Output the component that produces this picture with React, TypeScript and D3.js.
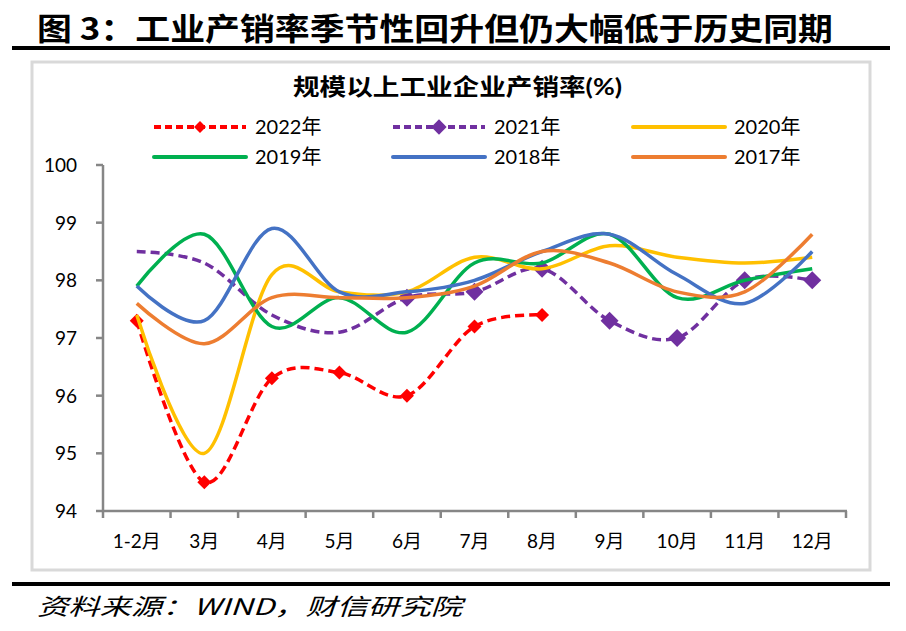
import React from "react";
import * as d3 from "d3";

const months = ["1-2月", "3月", "4月", "5月", "6月", "7月", "8月", "9月", "10月", "11月", "12月"];
const v2022 = [97.3, 94.5, 96.3, 96.4, 96.0, 97.2, 97.4];
const v2021 = [98.5, 98.3, 97.4, 97.1, 97.7, 97.8, 98.2, 97.3, 97.0, 98.0, 98.0];
const v2020 = [97.4, 95.0, 98.1, 97.8, 97.8, 98.4, 98.2, 98.6, 98.4, 98.3, 98.4];
const v2019 = [97.9, 98.8, 97.2, 97.7, 97.1, 98.3, 98.3, 98.8, 97.7, 98.0, 98.2];
const v2018 = [97.9, 97.3, 98.9, 97.8, 97.8, 98.0, 98.5, 98.8, 98.1, 97.6, 98.5];
const v2017 = [97.6, 96.9, 97.7, 97.7, 97.7, 97.9, 98.5, 98.3, 97.8, 97.8, 98.8];
const yTicks = [94, 95, 96, 97, 98, 99, 100];
const seriesNames = ["2022年", "2021年", "2020年", "2019年", "2018年", "2017年"];

const TITLE = "图 3：工业产销率季节性回升但仍大幅低于历史同期";
const CHART_TITLE = "规模以上工业企业产销率(%)";
const SOURCE = "资料来源：WIND，财信研究院";

const FONT = "Lato, 'Noto Sans CJK SC', sans-serif";

type S = { name: string; values: number[]; color: string; dash?: string; marker?: number; markerFrom?: number };

export default function App() {
  const x = d3.scaleBand<string>().domain(months).range([103, 846]).padding(0);
  const y = d3.scaleLinear().domain([94, 100]).range([511, 165]);
  const cx = (i: number) => (x(months[i]) as number) + x.bandwidth() / 2;
  const line = d3
    .line<number>()
    .x((_, i) => cx(i))
    .y((d) => y(d))
    .curve(d3.curveCardinal.tension(0));

  const series: S[] = [
    { name: seriesNames[0], values: v2022, color: "#FF0000", dash: "9 5", marker: 7, markerFrom: 0 },
    { name: seriesNames[1], values: v2021, color: "#7030A0", dash: "9 5", marker: 9, markerFrom: 4 },
    { name: seriesNames[2], values: v2020, color: "#FFC000" },
    { name: seriesNames[3], values: v2019, color: "#00B050" },
    { name: seriesNames[4], values: v2018, color: "#4472C4" },
    { name: seriesNames[5], values: v2017, color: "#ED7D31" },
  ];

  const legendPos = [
    { x: 154, y: 127 },
    { x: 393, y: 127 },
    { x: 633, y: 127 },
    { x: 154, y: 157 },
    { x: 393, y: 157 },
    { x: 633, y: 157 },
  ];

  const diamond = (px: number, py: number, r: number) =>
    `M${px},${py - r}L${px + r},${py}L${px},${py + r}L${px - r},${py}Z`;

  return (
    <svg width={906} height={631} style={{ position: "absolute", left: 0, top: 0, background: "#fff" }}>
      <rect x={0} y={0} width={906} height={631} fill="#fff" />
      <text
        x={37}
        y={40}
        fontFamily="'Noto Sans CJK SC', sans-serif"
        fontWeight={700}
        fontSize={31}
        textLength={796}
        lengthAdjust="spacingAndGlyphs"
        fill="#000"
      >
        {TITLE}
      </text>
      <line x1={12} x2={890} y1={48} y2={48} stroke="#000" strokeWidth={4} />
      <rect x={32} y={62} width={838} height={508} fill="#fff" stroke="#D9D9D9" strokeWidth={3} />
      <text
        x={293}
        y={95}
        fontFamily={FONT}
        fontWeight={700}
        fontSize={23}
        textLength={329}
        lengthAdjust="spacingAndGlyphs"
        fill="#000"
      >
        {CHART_TITLE}
      </text>

      {/* legend */}
      {series.map((s, i) => {
        const p = legendPos[i];
        return (
          <g key={s.name}>
            <line
              x1={p.x}
              x2={p.x + 92}
              y1={p.y}
              y2={p.y}
              stroke={s.color}
              strokeWidth={4}
              strokeDasharray={s.dash ? "7 4" : undefined}
              strokeLinecap={s.dash ? "butt" : "round"}
            />
            {s.marker ? <path d={diamond(p.x + 46, p.y, s.marker * 0.85)} fill={s.color} /> : null}
            <text x={p.x + 101} y={p.y + 7} fontFamily={FONT} fontSize={20} fill="#000">
              {s.name}
            </text>
          </g>
        );
      })}

      {/* axes */}
      <line x1={103} x2={103} y1={165} y2={512} stroke="#868686" strokeWidth={2.5} />
      <line x1={102} x2={847} y1={511} y2={511} stroke="#868686" strokeWidth={2.5} />
      {yTicks.map((t) => (
        <g key={t}>
          <line x1={96} x2={103} y1={y(t)} y2={y(t)} stroke="#868686" strokeWidth={2.5} />
          <text x={77} y={y(t) + 7} textAnchor="end" fontFamily={FONT} fontSize={19} fill="#000">
            {t}
          </text>
        </g>
      ))}
      {months.map((m, i) => (
        <g key={m}>
          <line
            x1={x(m) as number}
            x2={x(m) as number}
            y1={511}
            y2={518}
            stroke="#868686"
            strokeWidth={2.5}
          />
          <text x={cx(i)} y={548} textAnchor="middle" fontFamily={FONT} fontSize={19} fill="#000">
            {m}
          </text>
        </g>
      ))}
      <line x1={846} x2={846} y1={511} y2={518} stroke="#868686" strokeWidth={2.5} />

      {/* series */}
      {series.map((s) => (
        <g key={s.name}>
          <path
            d={line(s.values) || ""}
            fill="none"
            stroke={s.color}
            strokeWidth={3.5}
            strokeDasharray={s.dash}
          />
          {s.marker
            ? s.values.map((v, i) =>
                i >= (s.markerFrom || 0) ? (
                  <path key={i} d={diamond(cx(i), y(v), s.marker as number)} fill={s.color} />
                ) : null
              )
            : null}
        </g>
      ))}

      <line x1={12} x2={890} y1={584} y2={584} stroke="#000" strokeWidth={4} />
      <text
        x={37}
        y={615}
        fontFamily="'Noto Sans CJK SC', serif"
        fontStyle="italic"
        fontSize={23}
        textLength={425}
        lengthAdjust="spacingAndGlyphs"
        fill="#000"
      >
        {SOURCE}
      </text>
    </svg>
  );
}
